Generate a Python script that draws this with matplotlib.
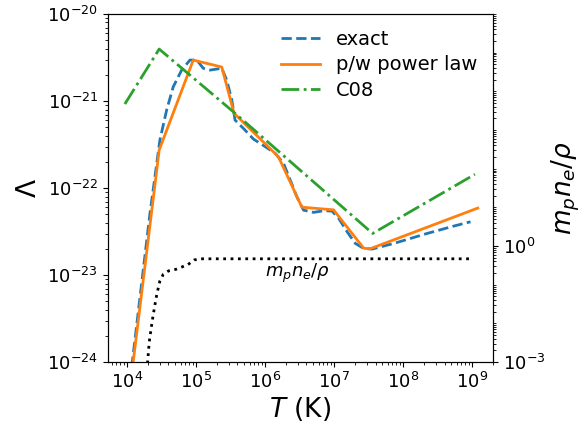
"""Cooling function: exact vs piecewise power law vs C08, with m_p n_e / rho."""
import numpy as np
from matplotlib import pyplot as plt
from matplotlib import ticker

# exact cooling curve
T_exact = [1.11e4, 2.16e4, 3.01e4, 3.77e4, 4.70e4, 6.22e4, 8.20e4, 1.03e5,
           1.28e5, 1.60e5, 2.37e5, 2.80e5, 3.31e5, 3.69e5, 4.88e5, 6.81e5,
           1.01e6, 1.41e6, 1.86e6, 2.32e6, 2.90e6, 3.62e6, 5.06e6, 7.06e6,
           9.35e6, 1.17e7, 1.55e7, 2.04e7, 2.69e7, 3.56e7, 7.33e7, 2.24e8,
           5.45e8, 9.51e8]
L_exact = [6.0e-25, 5.1e-23, 3.56e-22, 7.9e-22, 1.46e-21, 2.27e-21, 2.96e-21,
           2.96e-21, 2.38e-21, 2.27e-21, 2.38e-21, 1.74e-21, 1.03e-21,
           6.05e-22, 4.85e-22, 3.66e-22, 2.99e-22, 2.51e-22, 1.92e-22,
           1.24e-22, 7.94e-23, 5.58e-23, 5.26e-23, 5.48e-23, 5.45e-23,
           4.49e-23, 3.15e-23, 2.31e-23, 2.03e-23, 1.99e-23, 2.31e-23,
           3.01e-23, 3.66e-23, 4.10e-23]

# piecewise power law fit
T_pw = [1.0e4, 2.94e4, 9.16e4, 2.37e5, 3.57e5, 1.57e6, 3.43e6, 9.86e6,
        2.69e7, 3.31e7, 1.21e9]
L_pw = [2.57e-25, 2.74e-22, 2.96e-21, 2.46e-21, 7.24e-22, 2.29e-22,
        6.03e-23, 5.62e-23, 2.04e-23, 2.0e-23, 5.89e-23]

# C08
T_c08 = [9.35e3, 2.94e4, 3.47e5, 3.63e7, 1.10e9]
L_c08 = [9.25e-22, 3.96e-21, 7.55e-22, 3.01e-23, 1.44e-22]

# m_p n_e / rho (right axis)
T_ne = [1.95e4, 2.11e4, 2.33e4, 2.52e4, 2.72e4, 3.01e4, 3.37e4, 4.03e4,
        5.14e4, 7.67e4, 9.38e4, 1.17e5, 1.0e9]
ne_frac = [6e-4, 3.35e-3, 1.15e-2, 2.69e-2, 5.75e-2, 0.126, 0.186, 0.229,
           0.251, 0.331, 0.437, 0.469, 0.469]

fig = plt.figure(figsize=(5.86, 4.26), dpi=100)
ax = fig.add_axes([0.184, 0.150, 0.657, 0.817])

ax.plot(T_exact, L_exact, '--', color='C0', lw=2, label='exact')
ax.plot(T_pw, L_pw, '-', color='C1', lw=2, label='p/w power law')
ax.plot(T_c08, L_c08, '-.', color='C2', lw=2, label='C08')
ax.set_xscale('log')
ax.set_yscale('log')
ax.set_xlim(5.3e3, 2.0e9)
ax.set_ylim(1e-24, 1e-20)
ax.set_xlabel(r'$T$ (K)', fontsize=19, labelpad=2)
ax.set_ylabel(r'$\Lambda$', fontsize=19)
ax.tick_params(labelsize=13)
ax.legend(loc='upper right', frameon=False, fontsize=14,
          labelspacing=0.35, borderaxespad=0.4)

ax2 = ax.twinx()
ax2.plot(T_ne, ne_frac, ':', color='black', lw=2)
ax2.set_yscale('log')
ax2.set_ylim(1e-3, 1e6)
ax2.set_yticks([1e-3, 1e0])
ax2.yaxis.set_minor_locator(ticker.LogLocator(base=10, subs=np.arange(1, 10), numticks=100))
ax2.yaxis.set_minor_formatter(ticker.NullFormatter())
ax2.set_ylabel(r'$m_pn_e/\rho$', fontsize=19, labelpad=3)
ax2.tick_params(labelsize=13)
ax2.text(1e6, 0.2, r'$m_pn_e/\rho$', fontsize=13, va='center')

fig.savefig('out.png', dpi=100)
